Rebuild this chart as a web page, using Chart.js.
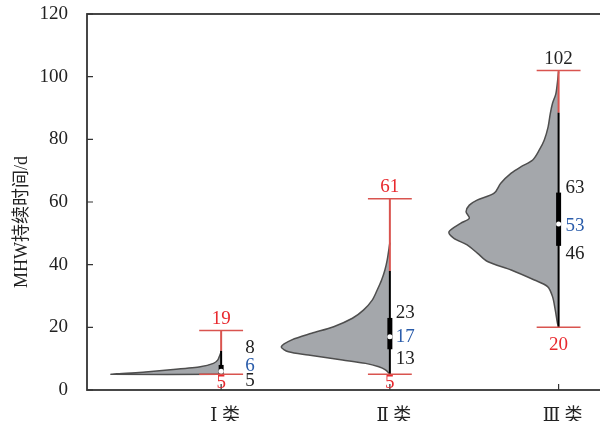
<!DOCTYPE html>
<html lang="zh">
<head>
<meta charset="UTF-8">
<title>MHW持续时间</title>
<script src="https://cdn.jsdelivr.net/npm/chart.js"></script>
<style>
  body { margin: 0; background: #fff; overflow: hidden; }
  #wrap { width: 600px; height: 421px; overflow: hidden; }
</style>
</head>
<body>
<div id="wrap"><canvas id="violinChart" width="610" height="421"></canvas></div>
<script>
// categories and summary values
const categories = ['Ⅰ 类', 'Ⅱ 类', 'Ⅲ 类'];
const minVals = [5, 5, 20];
const q1Vals = [5, 13, 46];
const medianVals = [6, 17, 53];
const q3Vals = [8, 23, 63];
const whiskerHigh = [12.5, 38, 88.5];
const maxVals = [19, 61, 102];
const yTicks = [0, 20, 40, 60, 80, 100, 120];

// violin outlines: value on y, relative half-width (density)
const violin1Y = [5, 5, 5.7, 6.6, 7.4, 8.5, 9.6, 11.7, 12.5];
const violin1W = [0, 1.0, 0.71, 0.41, 0.19, 0.07, 0.03, 0.005, 0];
const violin2Y = [5.1, 6.4, 7.4, 8.5, 9.6, 11.2, 12.2, 13.8, 16, 18.1, 20.2, 22.9, 25.5, 28.7, 31.9, 35.1, 38.3, 41.5, 47];
const violin2W = [0, 0.04, 0.10, 0.22, 0.43, 0.74, 0.92, 0.985, 0.89, 0.71, 0.51, 0.34, 0.24, 0.16, 0.115, 0.075, 0.045, 0.024, 0];
const violin3Y = [20.2, 21.3, 25.5, 29.8, 33, 35.1, 38.3, 41, 43.6, 46.3, 48.4, 50.5, 53.2, 54.8, 56.9, 59, 60.6, 62.8, 66, 69.2, 71.3, 73.4, 76.6, 79.8, 84, 88.3, 91.5, 94.7, 101.6];
const violin3W = [0, 0.01, 0.03, 0.055, 0.10, 0.22, 0.43, 0.645, 0.735, 0.83, 0.95, 0.995, 0.89, 0.81, 0.84, 0.81, 0.74, 0.585, 0.525, 0.43, 0.34, 0.235, 0.175, 0.13, 0.095, 0.075, 0.055, 0.024, 0];

const violinY = [violin1Y, violin2Y, violin3Y];
const violinW = [violin1W, violin2W, violin3W];

const VIOLIN_SCALE = 0.653;
const CAP_HALF = 0.13;
const RED_LINE = '#d9544f';
const RED_TEXT = '#e8292e';
const BLUE_TEXT = '#2a5caa';
const SERIF = '"Liberation Serif", "DejaVu Serif", "Noto Sans CJK SC", serif';

// label offsets (px) for Q3 / median / Q1 labels and their x shift
const labelDx = [24, 6, 7];
const labelDy = [[-17, -5, 7], [-5, 0, 10], [-5, 2, 8]];

const datasets = [];
categories.forEach((name, i) => {
  const c = i + 1;
  datasets.push({
    data: violinY[i].map((v, k) => ({ x: c - violinW[i][k] * VIOLIN_SCALE, y: v })),
    showLine: true, fill: 'shape', tension: i === 0 ? 0.15 : 0.3,
    backgroundColor: '#a4a7ab', borderColor: '#4e4e4e', borderWidth: 1.5,
    pointRadius: 0, order: 6
  });
  datasets.push({
    data: [{ x: c, y: whiskerHigh[i] }, { x: c, y: maxVals[i] }],
    showLine: true, borderColor: RED_LINE, borderWidth: 2, pointRadius: 0, order: 5
  });
  datasets.push({
    data: [{ x: c, y: minVals[i] }, { x: c, y: whiskerHigh[i] }],
    showLine: true, borderColor: '#000', borderWidth: 2, pointRadius: 0, order: 4
  });
  datasets.push({
    data: [{ x: c, y: q1Vals[i] }, { x: c, y: q3Vals[i] }],
    showLine: true, borderColor: '#000', borderWidth: 5, pointRadius: 0, order: 3
  });
  [minVals[i], maxVals[i]].forEach(v => {
    datasets.push({
      data: [{ x: c - CAP_HALF, y: v }, { x: c + CAP_HALF, y: v }],
      showLine: true, borderColor: RED_LINE, borderWidth: 1.5, pointRadius: 0, order: 2
    });
  });
  datasets.push({
    data: [{ x: c, y: medianVals[i] }],
    pointRadius: 2.5, backgroundColor: '#fff', borderWidth: 0, order: 1
  });
});

// frame, inward ticks, value labels, y title
const overlay = {
  id: 'overlay',
  afterDraw(chart) {
    const { ctx, chartArea: a, scales: { x, y } } = chart;
    ctx.save();
    ctx.strokeStyle = '#333';
    ctx.lineWidth = 1.8;
    ctx.strokeRect(a.left, a.top, a.right - a.left, a.bottom - a.top);
    ctx.lineWidth = 1.2;
    ctx.beginPath();
    yTicks.forEach(v => {
      const py = y.getPixelForValue(v);
      ctx.moveTo(a.left, py); ctx.lineTo(a.left + 6, py);
    });
    categories.forEach((n, i) => {
      const px = x.getPixelForValue(i + 1);
      ctx.moveTo(px, a.bottom); ctx.lineTo(px, a.bottom - 6);
    });
    ctx.stroke();

    ctx.font = '19px ' + SERIF;
    ctx.textBaseline = 'middle';
    categories.forEach((n, i) => {
      const px = x.getPixelForValue(i + 1);
      ctx.textAlign = 'center';
      ctx.fillStyle = i === 2 ? '#222' : RED_TEXT;
      ctx.fillText(String(maxVals[i]), px, y.getPixelForValue(maxVals[i]) - 11.5);
      ctx.fillStyle = RED_TEXT;
      ctx.fillText(String(minVals[i]), px, Math.min(y.getPixelForValue(minVals[i]) + 18, a.bottom - 7));
      ctx.textAlign = 'left';
      const lx = px + labelDx[i];
      ctx.fillStyle = '#222';
      ctx.fillText(String(q3Vals[i]), lx, y.getPixelForValue(q3Vals[i]) + labelDy[i][0]);
      ctx.fillStyle = BLUE_TEXT;
      ctx.fillText(String(medianVals[i]), lx, y.getPixelForValue(medianVals[i]) + labelDy[i][1]);
      ctx.fillStyle = '#222';
      ctx.fillText(String(q1Vals[i]), lx, y.getPixelForValue(q1Vals[i]) + labelDy[i][2]);
    });

    ctx.translate(22, 222);
    ctx.rotate(-Math.PI / 2);
    ctx.textAlign = 'center';
    ctx.font = '18px ' + SERIF;
    ctx.fillStyle = '#222';
    ctx.fillText('MHW持续时间/d', 0, 0);
    ctx.restore();
  }
};

new Chart(document.getElementById('violinChart'), {
  type: 'scatter',
  data: { datasets },
  options: {
    responsive: false,
    animation: false,
    layout: { padding: { top: 14, right: 5, left: 0, bottom: 0 } },
    plugins: { legend: { display: false }, tooltip: { enabled: false } },
    scales: {
      x: {
        type: 'linear', min: 0.205, max: 3.275,
        grid: { display: false }, border: { display: false },
        afterBuildTicks: s => { s.ticks = [1, 2, 3].map(v => ({ value: v })); },
        afterFit: s => { s.height = 31; s.paddingLeft = 0; s.paddingRight = 0; },
        ticks: {
          callback: v => categories[v - 1],
          font: { family: SERIF, size: 18 }, color: '#222',
          padding: 7, labelOffset: 4, autoSkip: false, maxRotation: 0
        }
      },
      y: {
        min: 0, max: 120,
        grid: { display: false }, border: { display: false },
        afterBuildTicks: s => { s.ticks = yTicks.map(v => ({ value: v })); },
        afterFit: s => { s.width = 87; s.paddingTop = 0; s.paddingBottom = 0; },
        ticks: { font: { family: SERIF, size: 19 }, color: '#222', padding: 11 }
      }
    }
  },
  plugins: [overlay]
});
</script>
</body>
</html>
